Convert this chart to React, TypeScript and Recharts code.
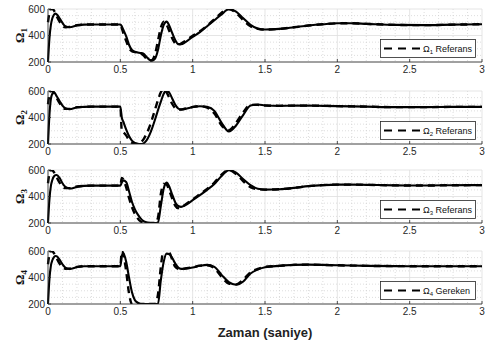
import { LineChart, Line, XAxis, YAxis, CartesianGrid } from 'recharts';

// sample times (s)
const TIME = [
  0, 0.01, 0.02, 0.03, 0.04, 0.05, 0.06, 0.08, 0.1, 0.12, 0.15, 0.2, 0.25, 0.3, 0.4, 0.5,
  0.51, 0.52, 0.54, 0.56, 0.58, 0.6, 0.62, 0.64, 0.66, 0.68, 0.7, 0.72, 0.74, 0.76, 0.78,
  0.8, 0.82, 0.84, 0.86, 0.88, 0.9, 0.92, 0.95, 1.0, 1.05, 1.1, 1.15, 1.2, 1.25, 1.3, 1.35,
  1.4, 1.45, 1.5, 1.6, 1.7, 1.8, 1.9, 2.0, 2.1, 2.2, 2.4, 2.6, 2.8, 3.0,
];

const OMEGA1 = [
  200, 380, 480, 530, 555, 565, 560, 530, 495, 470, 462, 475, 482, 483, 483, 483,
  470, 445, 395, 330, 290, 278, 272, 268, 262, 240, 218, 210, 225, 290, 400,
  480, 505, 470, 415, 365, 335, 335, 350, 390, 425, 470, 515, 560, 598, 580, 530,
  480, 452, 445, 450, 462, 475, 485, 492, 492, 488, 480, 478, 482, 485,
];
const OMEGA1_REF = [
  500, 570, 600, 600, 590, 570, 545, 505, 475, 462, 465, 478, 482, 483, 483, 483,
  455, 420, 360, 305, 282, 275, 270, 265, 250, 225, 210, 215, 260, 360, 460,
  505, 480, 430, 375, 340, 330, 340, 360, 398, 432, 475, 522, 572, 600, 570, 515,
  470, 450, 445, 450, 462, 475, 485, 492, 492, 488, 480, 478, 482, 485,
];

const OMEGA2 = [
  200, 420, 540, 580, 590, 580, 560, 525, 490, 470, 462, 476, 480, 482, 482, 482,
  400, 370, 310, 260, 225, 208, 202, 200, 205, 225, 265, 320, 385, 455, 520,
  580, 605, 585, 540, 495, 468, 460, 465, 478, 485, 480, 450, 360, 295, 340, 420,
  490, 498, 492, 488, 490, 490, 488, 486, 484, 482, 478, 478, 480, 480,
];
const OMEGA2_REF = [
  500, 575, 600, 600, 590, 570, 548, 508, 478, 465, 465, 478, 481, 482, 482, 482,
  300, 290, 265, 230, 210, 200, 200, 210, 235, 275, 325, 390, 460, 530, 590,
  615, 590, 545, 500, 470, 460, 460, 468, 480, 485, 475, 430, 340, 305, 360, 440,
  495, 495, 490, 488, 490, 490, 488, 486, 484, 482, 478, 478, 480, 480,
];

const OMEGA3 = [
  200, 380, 480, 525, 550, 560, 562, 540, 500, 472, 460, 472, 480, 482, 482, 482,
  505, 522, 510, 440, 360, 305, 265, 235, 215, 205, 200, 200, 200, 205, 330,
  460, 505, 470, 410, 355, 328, 322, 335, 372, 410, 450, 495, 555, 598, 580, 530,
  485, 458, 452, 455, 465, 478, 486, 490, 490, 488, 484, 483, 485, 486,
];
const OMEGA3_REF = [
  500, 575, 600, 598, 585, 565, 545, 505, 476, 463, 463, 476, 480, 482, 482, 482,
  540, 530, 470, 390, 320, 270, 235, 212, 202, 200, 200, 200, 200, 240, 420,
  495, 490, 440, 380, 330, 312, 318, 340, 378, 418, 458, 505, 565, 600, 570, 515,
  470, 455, 452, 455, 465, 478, 486, 490, 490, 488, 484, 483, 485, 486,
];

const OMEGA4 = [
  200, 390, 490, 530, 552, 562, 560, 535, 500, 475, 465, 478, 485, 485, 485, 485,
  560, 585, 520, 400, 290, 230, 210, 200, 200, 200, 200, 200, 200, 200, 380,
  520, 580, 575, 545, 505, 475, 465, 468, 475, 488, 495, 480, 420, 365, 345, 370,
  430, 460, 478, 488, 495, 497, 495, 492, 490, 488, 486, 485, 485, 485,
];
const OMEGA4_REF = [
  500, 575, 600, 598, 585, 565, 545, 505, 478, 466, 467, 480, 485, 485, 485, 485,
  600, 580, 450, 280, 200, 200, 200, 200, 200, 200, 200, 200, 200, 270, 480,
  620, 630, 590, 530, 480, 465, 462, 468, 477, 490, 492, 470, 405, 355, 348, 385,
  440, 465, 480, 488, 495, 497, 495, 492, 490, 488, 486, 485, 485, 485,
];

const SUBSCRIPTS = ['1', '2', '3', '4'];
const LEGEND_WORDS = ['Referans', 'Referans', 'Referans', 'Gereken'];
const ACTUAL = [OMEGA1, OMEGA2, OMEGA3, OMEGA4];
const REFERENCE = [OMEGA1_REF, OMEGA2_REF, OMEGA3_REF, OMEGA4_REF];

const X_TICKS = [0, 0.5, 1, 1.5, 2, 2.5, 3];
const X_MINOR = [0.1, 0.2, 0.3, 0.4, 0.6, 0.7, 0.8, 0.9, 1.1, 1.2, 1.3, 1.4, 1.6, 1.7, 1.8, 1.9, 2.1, 2.2, 2.3, 2.4, 2.6, 2.7, 2.8, 2.9];
const Y_TICKS = [200, 400, 600];
const Y_MINOR = [250, 300, 350, 450, 500, 550];

const PANEL_TOPS = [0, 82, 161, 242];
const INK = '#262626';
const SANS = '"Liberation Sans", Arial, Helvetica, sans-serif';

const yLabel = (sub: string) => (props: any) => {
  const { x, y, height } = props.viewBox;
  const cx = x + 16;
  const cy = y + height / 2;
  return (
    <text
      x={cx}
      y={cy}
      transform={`rotate(-90, ${cx}, ${cy})`}
      textAnchor="middle"
      fill="#111"
      style={{ fontFamily: '"Liberation Serif", "DejaVu Serif", serif', fontWeight: 'bold', fontSize: 13 }}
    >
      Ω<tspan dy={3} fontSize={9}>{sub}</tspan>
    </text>
  );
};

function LegendBox({ sub, word }: { sub: string; word: string }) {
  return (
    <svg width={96} height={19} style={{ position: 'absolute', left: 380, top: 39, display: 'block' }}>
      <rect x={0.5} y={0.5} width={95} height={18} fill="#fff" stroke={INK} strokeWidth={0.8} />
      <line x1={4} y1={9.5} x2={41} y2={9.5} stroke="#000" strokeWidth={2.2} strokeDasharray="8 6" />
      <text x={43} y={13} fill="#111" style={{ fontFamily: SANS, fontSize: 9 }}>
        Ω<tspan dy={2} fontSize={6}>{sub}</tspan>
        <tspan dy={-2}> {word}</tspan>
      </text>
    </svg>
  );
}

function Panel({ index }: { index: number }) {
  const rows = TIME.map((t, i) => ({ t, actual: ACTUAL[index][i], ref: REFERENCE[index][i] }));
  const tickStyle = { fontFamily: SANS, fontSize: 10, fill: INK };
  return (
    <div style={{ position: 'absolute', left: 0, top: PANEL_TOPS[index], width: 486, height: 82 }}>
      <LineChart width={486} height={82} data={rows} margin={{ top: 9, right: 4, bottom: 0, left: 8 }}>
        <CartesianGrid
          verticalValues={X_MINOR}
          horizontalValues={Y_MINOR}
          stroke="#cfcfcf"
          strokeDasharray="1 2"
          strokeWidth={0.7}
        />
        <CartesianGrid verticalValues={X_TICKS} horizontalValues={Y_TICKS} stroke="#dedede" strokeWidth={0.8} />
        <XAxis
          dataKey="t"
          type="number"
          domain={[0, 3]}
          ticks={X_TICKS}
          height={20}
          tickSize={-3}
          tickMargin={7}
          stroke={INK}
          strokeWidth={0.8}
          tick={tickStyle}
          interval={0}
        />
        <XAxis
          xAxisId="top"
          orientation="top"
          dataKey="t"
          type="number"
          domain={[0, 3]}
          ticks={X_TICKS}
          height={0}
          tickSize={-3}
          tick={false}
          stroke={INK}
          strokeWidth={0.8}
        />
        <YAxis
          type="number"
          domain={[200, 600]}
          ticks={Y_TICKS}
          allowDataOverflow
          width={40}
          tickSize={-3}
          tickMargin={6}
          stroke={INK}
          strokeWidth={0.8}
          tick={tickStyle}
          interval={0}
          label={{ content: yLabel(SUBSCRIPTS[index]) }}
        />
        <YAxis
          yAxisId="right"
          orientation="right"
          type="number"
          domain={[200, 600]}
          ticks={Y_TICKS}
          width={0}
          tickSize={-3}
          tick={false}
          stroke={INK}
          strokeWidth={0.8}
        />
        <Line
          dataKey="ref"
          type="monotone"
          stroke="#000"
          strokeWidth={2.4}
          strokeDasharray="7 5"
          dot={false}
          isAnimationActive={false}
        />
        <Line dataKey="actual" type="monotone" stroke="#000" strokeWidth={2.1} dot={false} isAnimationActive={false} />
      </LineChart>
      <LegendBox sub={SUBSCRIPTS[index]} word={LEGEND_WORDS[index]} />
    </div>
  );
}

export default function App() {
  return (
    <div style={{ position: 'absolute', left: 0, top: 0, width: 486, height: 347, background: '#fff' }}>
      {[0, 1, 2, 3].map((i) => (
        <Panel key={i} index={i} />
      ))}
      <div
        style={{
          position: 'absolute',
          left: 48,
          width: 434,
          top: 325,
          textAlign: 'center',
          fontFamily: SANS,
          fontWeight: 'bold',
          fontSize: 13,
          color: '#222',
        }}
      >
        Zaman (saniye)
      </div>
    </div>
  );
}
